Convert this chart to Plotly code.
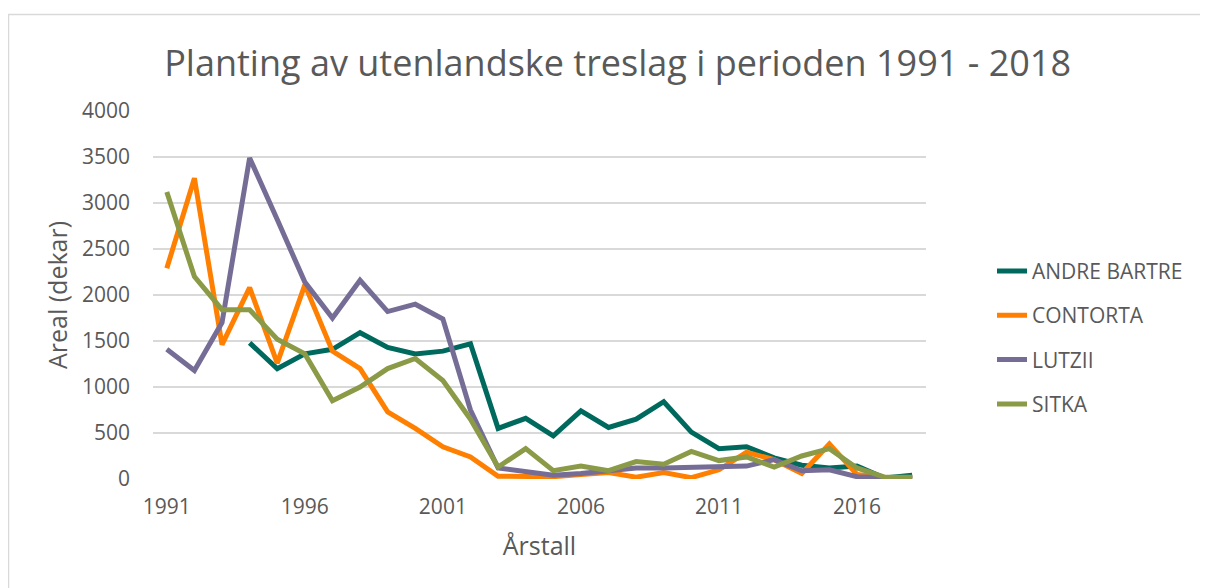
import plotly.graph_objects as go

years = list(range(1991, 2019))

andre_bartre = [None, None, None, 1480, 1200, 1360, 1410, 1590, 1430, 1360, 1390, 1470,
                550, 660, 470, 740, 560, 650, 840, 510, 330, 350, 230, 150, 120, 140, 10, 40]
contorta = [2290, 3270, 1460, 2080, 1260, 2110, 1390, 1200, 730, 550, 350, 240,
            30, 30, 25, 50, 70, 20, 70, 15, 100, 290, 210, 60, 380, 50, 15, 15]
lutzii = [1410, 1180, 1700, 3490, 2820, 2140, 1750, 2160, 1820, 1900, 1740, 750,
          120, 80, 40, 60, 90, 120, 120, 130, 140, 140, 210, 90, 100, 25, 15, 10]
sitka = [3120, 2200, 1840, 1840, 1520, 1360, 850, 1000, 1200, 1310, 1070, 650,
         130, 330, 90, 140, 90, 190, 160, 300, 200, 240, 130, 250, 330, 120, 20, 20]

series = [
    ("ANDRE BARTRE", andre_bartre, "#00695E"),
    ("CONTORTA", contorta, "#FF7F00"),
    ("LUTZII", lutzii, "#756D96"),
    ("SITKA", sitka, "#8A9A46"),
]

tick_years = [1991, 1996, 2001, 2006, 2011, 2016]
y_ticks = [0, 500, 1000, 1500, 2000, 2500, 3000, 3500, 4000]

FONT = "Open Sans"
TXT = "#595959"

# page has an 8px body margin, so the figure is 8px smaller and margins shifted
W, H = 1200, 580
L, R, T, B = 145, 282, 103, 109
PW, PH = W - L - R, H - T - B

fig = go.Figure()
for i, (name, vals, col) in enumerate(series):
    fig.add_trace(go.Scatter(
        x=years, y=vals, name=name, mode="lines",
        line=dict(color=col, width=5),
        connectgaps=False, legendgroup=f"g{i}",
    ))

fig.update_layout(
    width=W, height=H,
    margin=dict(l=L, r=R, t=T, b=B),
    paper_bgcolor="white", plot_bgcolor="white",
    font=dict(family=FONT, color=TXT, size=18),
    title=dict(text="Planting av utenlandske treslag i perioden 1991 - 2018",
               x=0.508, xanchor="center", y=0.905, yanchor="middle",
               font=dict(size=36, color=TXT, family=FONT)),
    xaxis=dict(range=[1990.5, 2018.5], tickvals=tick_years, ticktext=[str(t) for t in tick_years],
               showgrid=False, zeroline=False, showline=False, ticks="", ticklabelstandoff=13,
               tickfont=dict(size=21, color=TXT),
               title=dict(text="Årstall", font=dict(size=25, color=TXT), standoff=18)),
    yaxis=dict(range=[0, 4000], tickvals=y_ticks, showgrid=True, gridcolor="#D9D9D9", gridwidth=1.5,
               zeroline=False, showline=False, ticks="", ticklabelstandoff=22,
               tickfont=dict(size=21, color=TXT),
               title=dict(text="Areal (dekar)", font=dict(size=25, color=TXT), standoff=7)),
    legend=dict(x=(992 - L - 8) / PW, xanchor="left", y=0.62, yanchor="top",
                font=dict(size=21, color=TXT), tracegroupgap=14,
                bgcolor="rgba(0,0,0,0)"),
    shapes=[dict(type="rect", xref="paper", yref="paper",
                 x0=(0.5 - L) / PW, x1=(W + 20 - L) / PW,
                 y0=(H - B - (H + 20)) / PH, y1=(H - B - 6.5) / PH,
                 line=dict(color="#D9D9D9", width=1.5), fillcolor="rgba(0,0,0,0)", layer="below")],
)

fig.write_html("out.html")
